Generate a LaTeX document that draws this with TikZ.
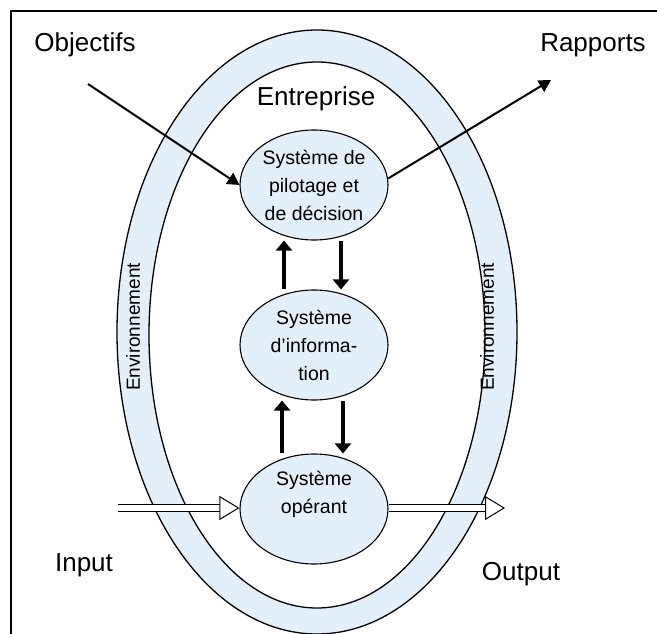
\documentclass[tikz,border=0pt]{standalone}
\usepackage{fontspec}
\setmainfont{Liberation Sans}
\usetikzlibrary{arrows.meta,shapes.geometric,positioning}
\definecolor{envblue}{RGB}{227,240,249}

\begin{document}
\begin{tikzpicture}[x=1pt,y=-1pt,
    sys/.style={ellipse, draw, fill=envblue, line width=1.1pt,
      minimum width=148pt, minimum height=110pt, inner sep=0pt,
      align=center, font=\fontsize{19.5}{28}\selectfont},
    lbl/.style={font=\fontsize{26}{30}\selectfont},
    envlbl/.style={rotate=90, font=\fontsize{19}{22}\selectfont},
    flow/.style={line width=3.4pt, -{Triangle[length=10pt,width=16pt]}},
    thin flow/.style={line width=2pt, -{Triangle[length=12pt,width=13pt]}},
    hollow/.style={double=white, double distance=6pt, line width=1pt,
      -{Triangle[open, fill=white, length=20pt, width=24pt]}}]
  \useasboundingbox (0,0) rectangle (657,634);

  % frame
  \draw[line width=1.3pt] (11,634) -- (11,11) -- (657,11);

  % environnement ring
  \fill[envblue, even odd rule] (317,332) ellipse (200pt and 302pt)
    (317,335) ellipse (168pt and 273pt);
  \draw[line width=1.3pt] (317,332) ellipse (200pt and 302pt);
  \draw[line width=1.3pt] (317,335) ellipse (168pt and 273pt);
  \node[envlbl] (envl) at (133,327) {Environnement};
  \node[envlbl] (envr) at (487,327) {Environnement};

  \node[lbl] (entr) at (316,99) {Entreprise};

  % systems
  \node[sys] (pilot) at (314,185) {Système de\\pilotage et\\de décision};
  \node[sys] (info) at (314,345) {Système\\d’informa-\\tion};
  \node[sys] (oper) at (314,509) {Système\\opérant\\[6pt]};

  \draw[flow] ([xshift=-30pt]info.north) -- ([xshift=-30pt]pilot.south);
  \draw[flow] ([xshift=27pt]pilot.south) -- ([xshift=27pt]info.north);
  \draw[flow] ([xshift=-32pt]oper.north) -- ([xshift=-32pt]info.south);
  \draw[flow] ([xshift=29pt]info.south) -- ([xshift=29pt]oper.north);

  % outside
  \node[lbl] (obj) at (85,45) {Objectifs};
  \node[lbl] (rap) at (593,45) {Rapports};
  \node[lbl] (inp) at (84,565) {Input};
  \node[lbl] (outp) at (521,574) {Output};
  \coordinate (objfrom) at (88,84);
  \coordinate (rapto) at (551,80);
  \coordinate (inpfrom) at (118,508);
  \coordinate (outto) at (505,508);

  \draw[thin flow] (objfrom) -- (pilot.west);
  \draw[thin flow] (pilot.5) -- (rapto);
  \draw[hollow] (inpfrom) -- (oper.west |- inpfrom);
  \draw[hollow] (oper.east |- outto) -- (outto);
\end{tikzpicture}
\end{document}
